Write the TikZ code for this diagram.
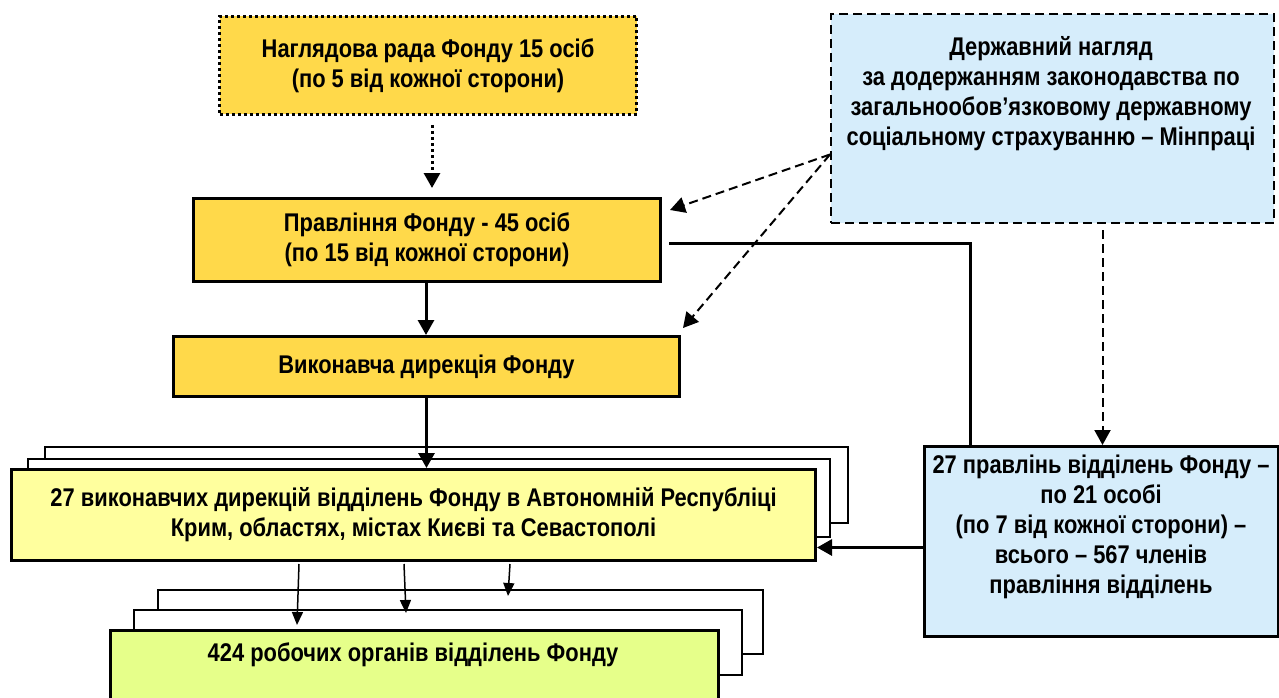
\documentclass[tikz,border=0pt]{standalone}
\usepackage{fontspec}
\setmainfont[FakeStretch=0.855]{Liberation Sans}
\usetikzlibrary{arrows.meta}
\definecolor{gold}{HTML}{FFD94A}
\definecolor{paleyellow}{HTML}{FFFF9E}
\definecolor{lime}{HTML}{E6FF8A}
\definecolor{paleblue}{HTML}{D6EDFB}
\tikzset{
  boxframe/.style={draw, line width=3pt, inner sep=0pt, anchor=north west},
  backframe/.style={draw, line width=1.5pt, fill=white, inner sep=0pt, anchor=north west},
  txt/.style={font=\bfseries\fontsize{25.6}{30}\selectfont, align=center, inner sep=0pt},
  bighead/.style={-{Triangle[length=15pt,width=16pt]}},
  smallhead/.style={-{Triangle[length=13pt,width=11pt]}},
  dotline/.style={line width=3pt, dash pattern=on 3pt off 3pt},
  dashline/.style={line width=2pt, dash pattern=on 9pt off 5pt},
}
\begin{document}
\begin{tikzpicture}[x=1pt,y=-1pt]
\useasboundingbox (0,0) rectangle (1279,698);
\clip (0,0) rectangle (1279,698);
% top supervisory board
\node[boxframe, dotline, fill=gold, minimum width=417pt, minimum height=98pt] (nag) at (218,15) {};
\node[txt] (nagt) at (nag.center) {Наглядова рада Фонду 15 осіб\\(по 5 від кожної сторони)};
% board
\node[boxframe, fill=gold, minimum width=467pt, minimum height=83pt] (prav) at (192,197) {};
\node[txt] (pravt) at (prav.center) {Правління Фонду - 45 осіб\\(по 15 від кожної сторони)};
% executive directorate
\node[boxframe, fill=gold, minimum width=506pt, minimum height=60pt] (exec) at (172,335) {};
\node[txt] (exect) at (exec.center) {Виконавча дирекція Фонду};
% state supervision
\node[boxframe, dashline, fill=paleblue, minimum width=443pt, minimum height=209pt] (derzh) at (830,13) {};
\node[txt] (derzht) at (1051,94) {Державний нагляд\\за додержанням законодавства по\\загальнообов’язковому державному\\соціальному страхуванню – Мінпраці};
% 27 executive directorates with stacked backs
\node[backframe, minimum width=803pt, minimum height=76pt] (dirb2) at (44,446) {};
\node[backframe, minimum width=802pt, minimum height=78pt] (dirb1) at (27,458) {};
\node[boxframe, fill=paleyellow, minimum width=804pt, minimum height=91pt] (dir) at (10,468) {};
\node[txt] (dirt) at (dir.center) {27 виконавчих дирекцій відділень Фонду в Автономній Республіці\\Крим, областях, містах Києві та Севастополі};
% 27 boards of branches
\node[boxframe, fill=paleblue, minimum width=354pt, minimum height=190pt] (pr) at (923,445) {};
\node[txt] (prt) at (1101,527) {27 правлінь відділень Фонду –\\по 21 особі\\(по 7 від кожної сторони) –\\всього – 567 членів\\правління відділень};
% 424 working bodies with stacked backs
\node[backframe, minimum width=605pt, minimum height=64pt] (rb2) at (157,589) {};
\node[backframe, minimum width=608pt, minimum height=65pt] (rb1) at (133,609) {};
\node[boxframe, fill=lime, minimum width=608pt, minimum height=100pt] (rob) at (109,629) {};
\node[txt] (robt) at (413,655) {424 робочих органів відділень Фонду};
% connectors
\draw[dotline, bighead, shorten <=9pt, shorten >=9pt] ([xshift=4pt]nag.south) -- ([xshift=4pt]nag.south |- prav.north);
\draw[line width=3pt, bighead] ([xshift=-1pt]prav.south) -- ([xshift=-1pt]prav.south |- exec.north);
\draw[line width=3pt, bighead] (exec.south) -- (exec.south |- dir.north);
\draw[dashline, bighead] ([yshift=-36pt]derzh.west) -- ([xshift=8pt,yshift=-13pt]prav.north east);
\draw[dashline, bighead] ([yshift=-36pt]derzh.west) -- ([xshift=2pt,yshift=7pt]exec.north east);
\draw[dashline, bighead, shorten <=6pt] ([xshift=50pt]derzh.south) -- ([xshift=50pt]derzh.south |- pr.north);
\draw[line width=3pt, shorten <=7pt] ([yshift=-3pt]prav.east) -| ([xshift=47pt]pr.north west);
\draw[line width=3pt, bighead] ([yshift=-6pt]pr.west) -- ([yshift=-6pt]pr.west -| dir.east);
\draw[line width=1.5pt, smallhead] ([xshift=289pt,yshift=-2pt]dir.south west) -- ([xshift=188pt,yshift=4pt]rob.north west);
\draw[line width=1.5pt, smallhead] ([xshift=394pt,yshift=-2pt]dir.south west) -- ([xshift=273pt,yshift=-4pt]rb1.north west);
\draw[line width=1.5pt, smallhead] ([xshift=500pt,yshift=-2pt]dir.south west) -- ([xshift=351pt,yshift=-7pt]rb2.north west);
\end{tikzpicture}
\end{document}
